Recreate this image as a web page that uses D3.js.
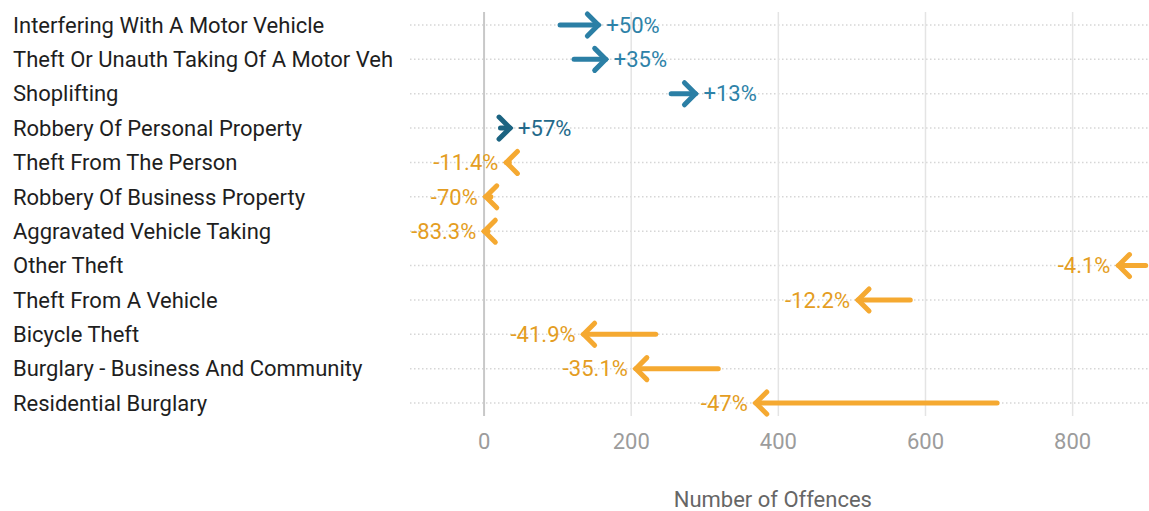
<!DOCTYPE html>
<html>
<head>
<meta charset="utf-8">
<script src="https://cdn.jsdelivr.net/npm/d3@7"></script>
<style>
  html, body { margin: 0; padding: 0; background: #fff; }
  svg { display: block; font-family: Roboto, "Noto Sans", sans-serif; }
</style>
</head>
<body>
<svg id="chart" width="1149" height="511"></svg>
<script>
// ---- data ----
const categories = [
  "Interfering With A Motor Vehicle",
  "Theft Or Unauth Taking Of A Motor Veh",
  "Shoplifting",
  "Robbery Of Personal Property",
  "Theft From The Person",
  "Robbery Of Business Property",
  "Aggravated Vehicle Taking",
  "Other Theft",
  "Theft From A Vehicle",
  "Bicycle Theft",
  "Burglary - Business And Community",
  "Residential Burglary"
];
const previousOffences = [104, 123, 255, 23, 35, 10, 6, 900, 580, 234, 319, 698];
const currentOffences  = [156, 166, 288, 36, 31, 3, 1, 863, 509, 136, 207, 370];
const changeLabels = ["+50%", "+35%", "+13%", "+57%", "-11.4%", "-70%", "-83.3%", "-4.1%", "-12.2%", "-41.9%", "-35.1%", "-47%"];
const xTicks = [0, 200, 400, 600, 800];
const xTitle = "Number of Offences";

// ---- layout ----
const W = 1149, H = 511;
const svg = d3.select("#chart");

const x = d3.scaleLinear().domain([-100, 900]).range([410, 1145.7]);
const y = d3.scalePoint().domain(categories).range([25, 403]);

const rows = categories.map((c, i) => ({
  cat: c, from: previousOffences[i], to: currentOffences[i], label: changeLabels[i]
}));

const up = d => d.to >= d.from;
const pct = d => (d.to - d.from) / d.from * 100;
const arrowColor = d => up(d) ? (pct(d) > 55 ? "#1b6381" : "#2b7fa5") : "#f5a931";
const labelColor = d => up(d) ? (pct(d) > 55 ? "#23698a" : "#2d82a8") : "#e49d22";

// horizontal dotted guides
svg.append("g").selectAll("line").data(categories).join("line")
  .attr("x1", x(-100)).attr("x2", W)
  .attr("y1", d => y(d)).attr("y2", d => y(d))
  .attr("stroke", "#d6d6d6").attr("stroke-width", 1.5)
  .attr("stroke-dasharray", "1.5,2.5");

// vertical grid
const xAxis = d3.axisBottom(x).tickValues(xTicks).tickSize(0).tickPadding(0);
const gx = svg.append("g").attr("transform", "translate(0,416)").call(xAxis);
gx.select(".domain").remove();
gx.selectAll(".tick line").remove();
gx.selectAll(".tick").append("line")
  .attr("y1", 0).attr("y2", -404)
  .attr("stroke", d => d === 0 ? "#c8c8c8" : "#e4e4e4")
  .attr("stroke-width", d => d === 0 ? 2 : 1.5);
gx.selectAll(".tick text")
  .attr("y", 25).attr("dy", "0.35em")
  .attr("fill", "#9c9c9c")
  .style("font-size", "22px")
  .style("font-family", "Roboto, sans-serif");

// axis title
svg.append("text")
  .attr("x", (x(-100) + x(900)) / 2 - 5).attr("y", 499).attr("dy", "0.35em")
  .attr("text-anchor", "middle")
  .attr("fill", "#666")
  .style("font-size", "22px")
  .text(xTitle);

// category labels
svg.append("g").selectAll("text").data(categories).join("text")
  .attr("x", 13).attr("y", d => y(d)).attr("dy", "0.35em")
  .attr("fill", "#1e1e1e")
  .style("font-size", "22px")
  .text(d => d);

// arrows
const HEAD = 11;
const ag = svg.append("g");
rows.forEach(d => {
  const yy = y(d.cat);
  const x0 = x(d.from), x1 = x(d.to);
  const dir = up(d) ? 1 : -1;
  const g = ag.append("g");
  g.append("line")
    .attr("x1", x0).attr("x2", x1).attr("y1", yy).attr("y2", yy)
    .attr("stroke", arrowColor(d)).attr("stroke-width", 5)
    .attr("stroke-linecap", "round");
  g.append("path")
    .attr("d", `M${x1 - dir * HEAD},${yy - HEAD}L${x1},${yy}L${x1 - dir * HEAD},${yy + HEAD}`)
    .attr("fill", "none")
    .attr("stroke", arrowColor(d)).attr("stroke-width", 5)
    .attr("stroke-linecap", "round").attr("stroke-linejoin", "miter");
  g.append("text")
    .attr("x", x1 + dir * 8).attr("y", yy).attr("dy", "0.35em")
    .attr("text-anchor", up(d) ? "start" : "end")
    .attr("fill", labelColor(d))
    .style("font-size", "22px")
    .text(d.label);
});
</script>
</body>
</html>
